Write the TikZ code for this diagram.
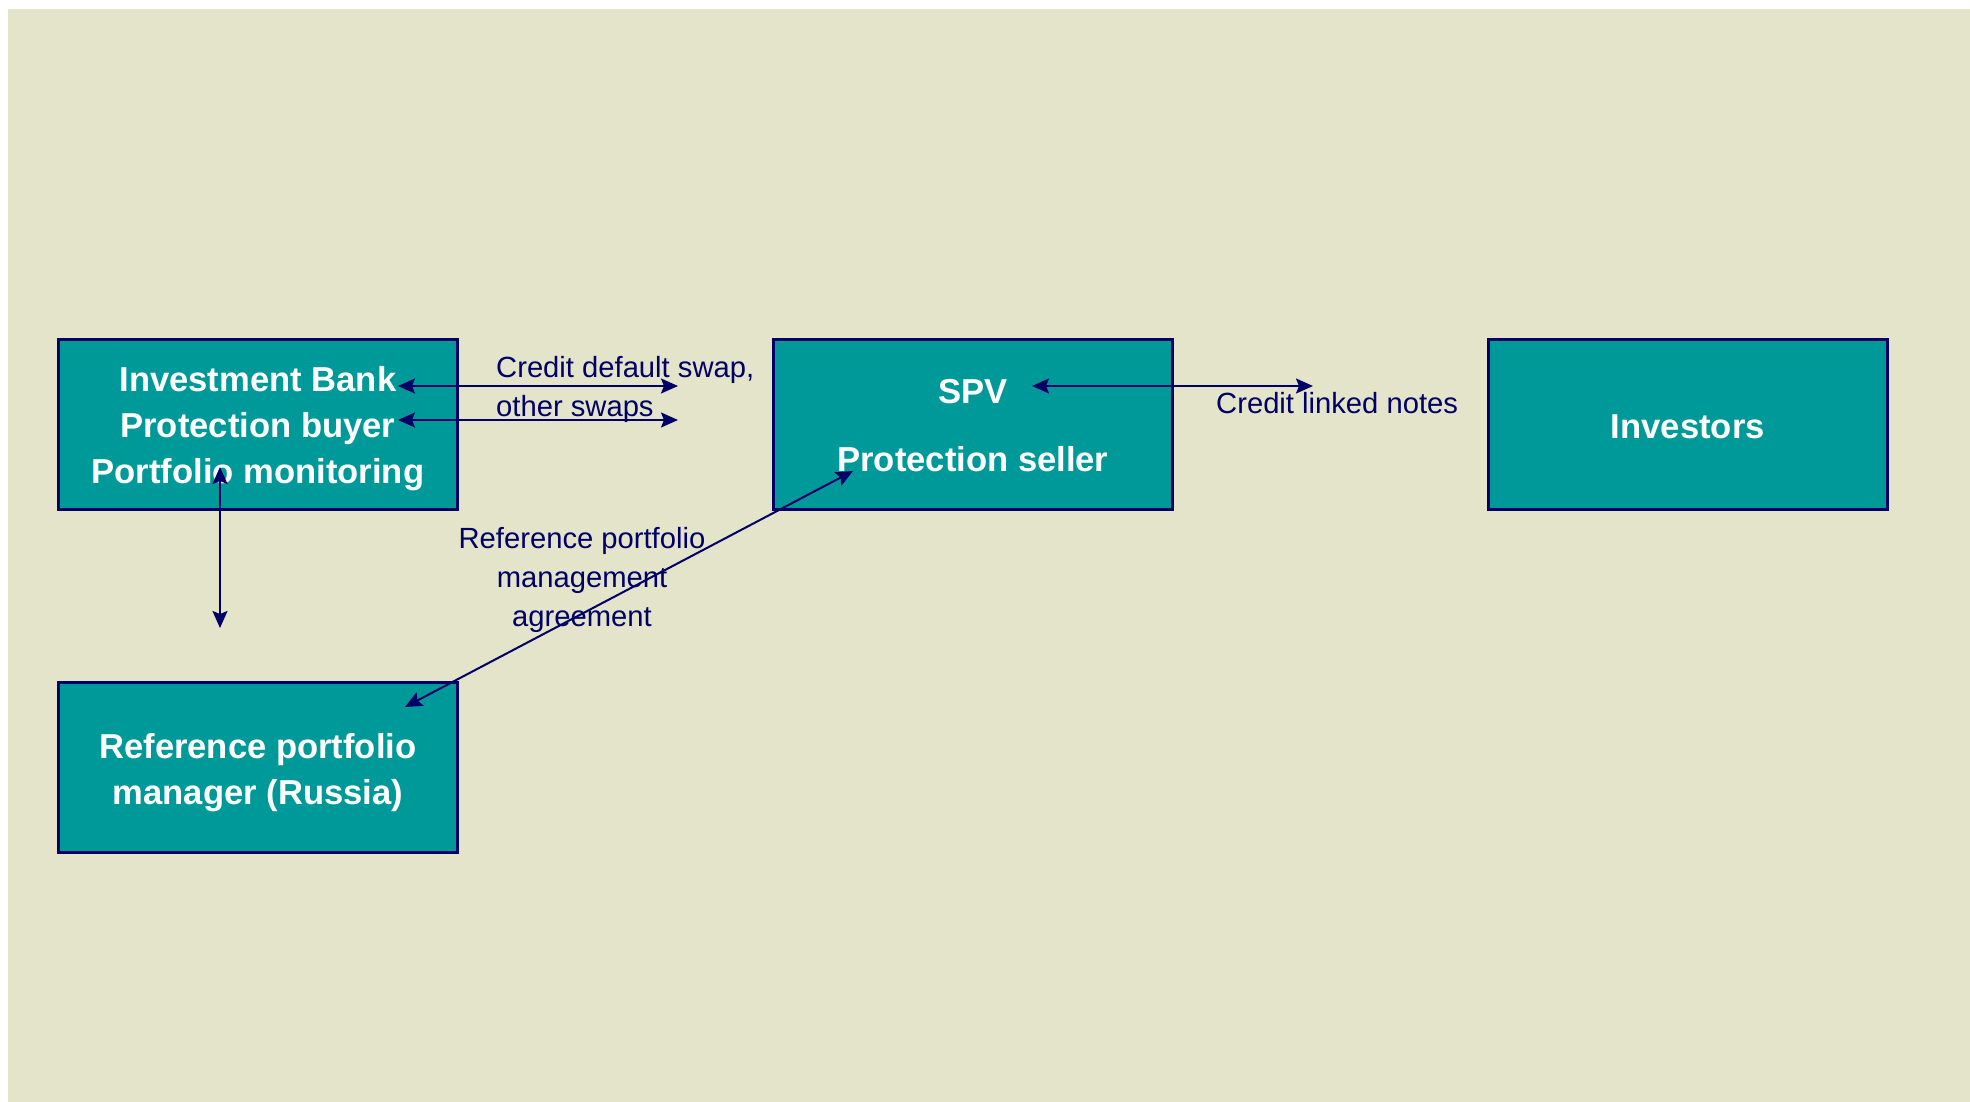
\documentclass[tikz,border=0pt]{standalone}
\usepackage{fontspec}
\setmainfont{Liberation Sans}
\usetikzlibrary{arrows.meta,calc}
\definecolor{bg}{RGB}{228,228,202}
\definecolor{teal1}{RGB}{0,153,153}
\definecolor{navy}{RGB}{0,0,102}
\begin{document}
\begin{tikzpicture}[x=1pt,y=-1pt,
 box/.style={draw=navy,line width=2.8pt,fill=teal1,minimum width=399pt,minimum height=170pt,inner sep=0pt,anchor=north west},
 boxtxt/.style={inner sep=0pt,text=white,font=\bfseries\fontsize{34.6}{46}\selectfont,align=center},
 lbl/.style={text=navy,font=\fontsize{29.2}{39}\selectfont,inner sep=0pt},
 link/.style={draw=navy,line width=2pt,{Stealth[length=17pt,width=15pt,inset=3pt]}-{Stealth[length=17pt,width=15pt,inset=3pt]}}]
\useasboundingbox (0,0) rectangle (1970,1102);
\fill[white] (0,0) rectangle (1970,1102);
\fill[bg] (8,9) rectangle (1970,1102);
\node[box] (ib) at (57,338) {};
\node[box] (spv) at (772,338) {};
\node[box] (inv) at (1487,338) {};
\node[box] (rm) at (57,681) {};
\node[boxtxt] (ibt) at ($(ib.center)+(0,4)$) {Investment Bank\\Protection buyer\\Portfolio monitoring};
\node[boxtxt] (spvt) at ($(spv.center)+(0,1.5)$) {SPV\\[22pt]Protection seller};
\node[boxtxt] (invt) at ($(inv.center)+(0,2.5)$) {Investors};
\node[boxtxt] (rmt) at ($(rm.center)+(0,5)$) {Reference portfolio\\manager (Russia)};
\coordinate (a1) at ($(ib.north west)+(341,48)$);
\coordinate (b1) at ($(ib.north west)+(621,48)$);
\coordinate (a2) at ($(ib.north west)+(341,82)$);
\coordinate (b2) at ($(ib.north west)+(621,82)$);
\coordinate (v1) at ($(ib.north west)+(163,129)$);
\coordinate (v2) at ($(ib.north west)+(163,290)$);
\coordinate (d1) at ($(rm.north west)+(348,26)$);
\coordinate (d2) at ($(spv.north west)+(81,133)$);
\coordinate (c1) at ($(spv.north west)+(260,48)$);
\coordinate (c2) at ($(spv.north west)+(541,48)$);
\node[lbl,anchor=west,align=left] (cds) at (496,389) {Credit default swap,\\other swaps};
\node[lbl,anchor=west] (cln) at (1216,403) {Credit linked notes};
\node[lbl,align=center] (rpma) at (582,580) {Reference portfolio\\management\\agreement};
\draw[link] (a1) -- (b1);
\draw[link] (a2) -- (b2);
\draw[link] (v1) -- (v2);
\draw[link] (d1) -- (d2);
\draw[link] (c1) -- (c2);
\end{tikzpicture}
\end{document}
